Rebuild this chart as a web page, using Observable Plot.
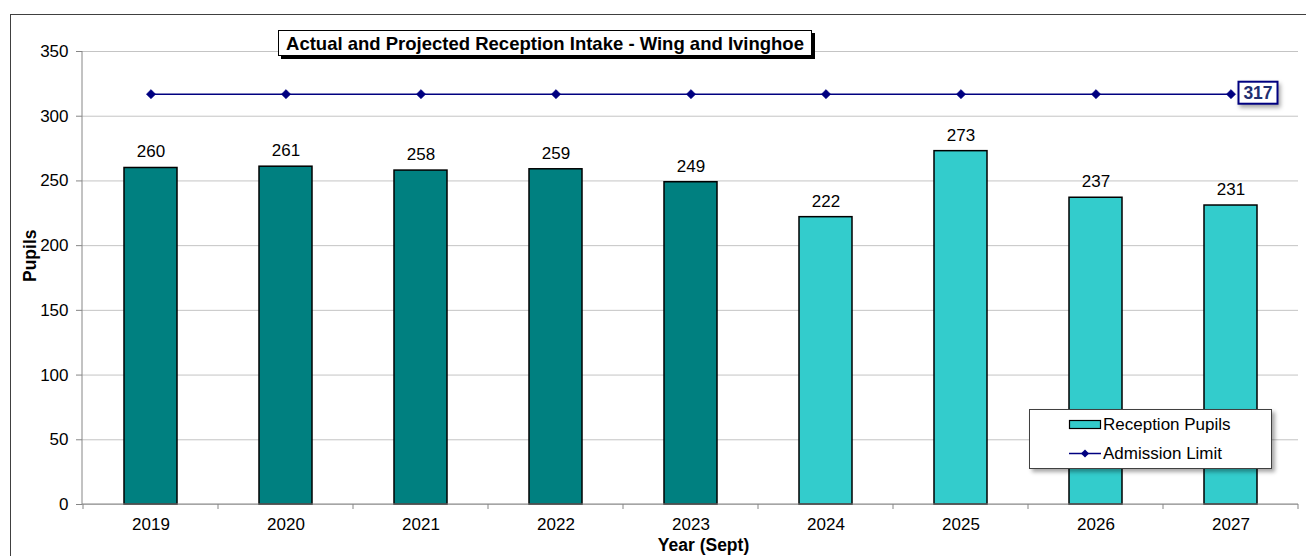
<!DOCTYPE html>
<html>
<head>
<meta charset="utf-8">
<script src="https://cdn.jsdelivr.net/npm/d3@7"></script>
<script src="https://cdn.jsdelivr.net/npm/@observablehq/plot@0.6"></script>
<style>
  html, body { margin: 0; padding: 0; background: #fff; }
  #wrap { position: relative; width: 1306px; height: 556px; overflow: hidden; font-family: "Liberation Sans", Arial, sans-serif; }
  #frame { position: absolute; left: 10px; top: 14px; width: 1400px; height: 700px; border: 1px solid #404040; box-sizing: border-box; }
  #chart { position: absolute; left: 0; top: 0; }
  #title { position: absolute; left: 278px; top: 30px; width: 534px; height: 26px; border: 1px solid #000; background: #fff;
           box-shadow: 3px 3px 0 #000; font-weight: bold; font-size: 18.5px; line-height: 25px; text-align: center; white-space: nowrap; box-sizing: border-box; }
  #legend { position: absolute; left: 1029px; top: 409px; width: 243px; height: 60px; border: 1px solid #404040; background: #fff;
            box-shadow: 3px 3px 4px rgba(0,0,0,0.35); box-sizing: border-box; }
</style>
</head>
<body>
<div id="wrap">
  <div id="frame"></div>
  <div id="chart"></div>
  <div id="title"></div>
  <div id="legend"></div>
</div>
<script>
// ---- data ----
const years = ["2019", "2020", "2021", "2022", "2023", "2024", "2025", "2026", "2027"];
const pupils = [260, 261, 258, 259, 249, 222, 273, 237, 231];
const status = ["Actual", "Actual", "Actual", "Actual", "Actual", "Projected", "Projected", "Projected", "Projected"];
const admissionLimit = [317, 317, 317, 317, 317, 317, 317, 317, 317];
const yTicks = [0, 50, 100, 150, 200, 250, 300, 350];
const seriesNames = ["Reception Pupils", "Admission Limit"];
const chartTitle = "Actual and Projected Reception Intake - Wing and Ivinghoe";
const xLabel = "Year (Sept)";
const yLabel = "Pupils";

const actualColor = "#008080";
const projectedColor = "#33CCCC";
const lineColor = "#000080";
const font = "'Liberation Sans', Arial, sans-serif";

const bars = years.map((y, i) => ({year: y, value: pupils[i], status: status[i]}));
const limit = years.map((y, i) => ({year: y, value: admissionLimit[i]}));

// axis lines and boundary ticks (x ticks sit between categories)
function axesFrame(index, scales, values, dim) {
  const {marginLeft, marginTop, marginRight, marginBottom, width, height} = dim;
  const x0 = marginLeft, x1 = width - marginRight, y0 = height - marginBottom;
  const g = d3.create("svg:g").attr("stroke", "#868686").attr("fill", "none").attr("stroke-width", 1);
  g.append("line").attr("x1", x0).attr("x2", x0).attr("y1", marginTop).attr("y2", y0);
  g.append("line").attr("x1", x0).attr("x2", x1).attr("y1", y0).attr("y2", y0);
  const step = scales.x.step();
  const bw = scales.x.bandwidth();
  const bounds = years.map(y => scales.x(y) - (step - bw) / 2);
  bounds.push(scales.x(years[years.length - 1]) + bw + (step - bw) / 2);
  for (const b of bounds) {
    g.append("line").attr("x1", b).attr("x2", b).attr("y1", y0).attr("y2", y0 + 5);
  }
  return g.node();
}

// boxed label for the last admission-limit point
function limitLabel(index, scales, values, dim) {
  const last = limit[limit.length - 1];
  const cx = scales.x(last.year) + scales.x.bandwidth() / 2;
  const cy = scales.y(last.value);
  const g = d3.create("svg:g");
  g.append("rect").attr("x", cx + 8).attr("y", cy - 12).attr("width", 39).attr("height", 22)
    .attr("fill", "#fff").attr("stroke", lineColor).attr("stroke-width", 2)
    .style("filter", "drop-shadow(2px 3px 2px rgba(0,0,0,0.35))");
  g.append("text").attr("x", cx + 27.5).attr("y", cy - 1).attr("dy", "0.35em")
    .attr("text-anchor", "middle").attr("font-weight", "bold").attr("font-size", 17.5)
    .attr("fill", "#1F2F70").text(String(last.value));
  return g.node();
}

const chart = Plot.plot({
  width: 1306,
  height: 556,
  marginLeft: 82,
  marginRight: 8,
  marginTop: 51,
  marginBottom: 52,
  style: {fontFamily: font, fontSize: "17px", background: "transparent", overflow: "visible"},
  x: {domain: years, paddingInner: 0.608, paddingOuter: 0.304, label: null},
  y: {domain: [0, 350], label: null},
  color: {domain: ["Actual", "Projected"], range: [actualColor, projectedColor]},
  marks: [
    Plot.gridY(yTicks, {stroke: "#c4c4c4", strokeOpacity: 1}),
    Plot.axisY({ticks: yTicks, tickSize: 6, tickPadding: 8, stroke: "#868686", fill: "#000", label: null, fontSize: 17}),
    Plot.axisX({tickSize: 0, tickPadding: 13, fill: "#000", label: null, fontSize: 17}),
    Plot.barY(bars, {x: "year", y: "value", fill: "status", stroke: "#000", strokeWidth: 1.5}),
    Plot.text(bars, {x: "year", y: "value", text: d => String(d.value), dy: -16, fill: "#000", fontSize: 17}),
    Plot.lineY(limit, {x: "year", y: "value", stroke: lineColor, strokeWidth: 1.5}),
    Plot.dot(limit, {x: "year", y: "value", symbol: d3.symbolDiamond2, r: 4.2, fill: lineColor, stroke: lineColor, strokeWidth: 0.5}),
    axesFrame,
    limitLabel,
    Plot.text([yLabel], {frameAnchor: "left", rotate: -90, dx: -52, dy: 4, fontWeight: "bold", fontSize: 17.5, fill: "#000"}),
    Plot.text([xLabel], {frameAnchor: "bottom", dy: 46, dx: 13, fontWeight: "bold", fontSize: 17.5, fill: "#000"})
  ]
});
document.getElementById("chart").appendChild(chart);
document.getElementById("title").textContent = chartTitle;

// legend
const leg = d3.select("#legend").append("svg").attr("width", 241).attr("height", 58)
  .style("font-family", font).style("font-size", "17px");
leg.append("rect").attr("x", 39.5).attr("y", 10.5).attr("width", 31).attr("height", 8)
  .attr("fill", projectedColor).attr("stroke", "#000").attr("stroke-width", 1.2);
leg.append("text").attr("x", 73).attr("y", 14.5).attr("dy", "0.35em").text(seriesNames[0]);
leg.append("line").attr("x1", 39).attr("x2", 71).attr("y1", 43.5).attr("y2", 43.5)
  .attr("stroke", lineColor).attr("stroke-width", 1.5);
leg.append("path").attr("d", d3.symbol(d3.symbolDiamond2, 42)()).attr("transform", "translate(55,43.5)")
  .attr("fill", lineColor);
leg.append("text").attr("x", 73).attr("y", 43.5).attr("dy", "0.35em").text(seriesNames[1]);
</script>
</body>
</html>
